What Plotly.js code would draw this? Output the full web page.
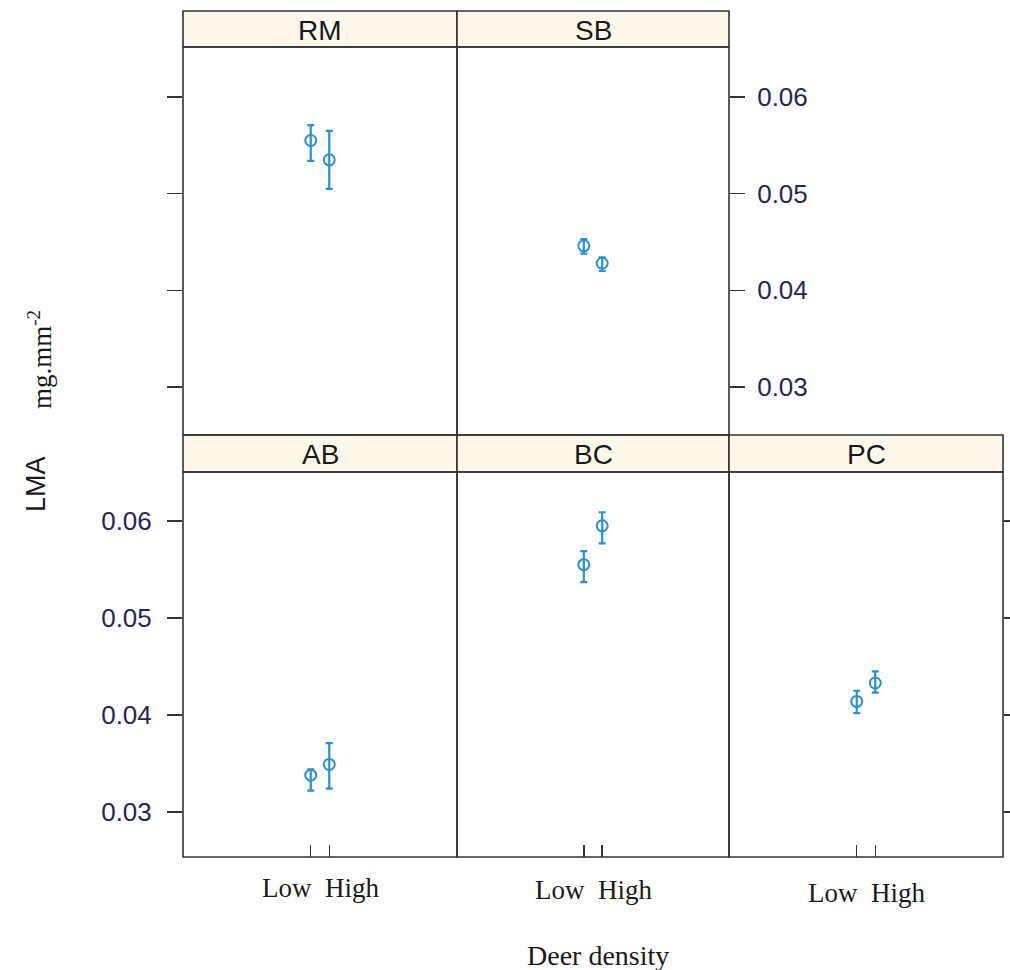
<!DOCTYPE html>
<html>
<head>
<meta charset="utf-8">
<script src="https://cdn.plot.ly/plotly-3.0.1.min.js"></script>
<style>html,body{margin:0;padding:0;background:#fff;}#chart{width:1010px;height:970px;}</style>
</head>
<body>
<div id="chart"></div>
<script>
// ---- data ----
const panels = ['RM', 'SB', 'AB', 'BC', 'PC'];
const levels = ['Low', 'High'];
const yTicks = [0.03, 0.04, 0.05, 0.06];
const yTickText = ['0.03', '0.04', '0.05', '0.06'];
const meanRM = [0.0555, 0.0535];
const upperRM = [0.0571, 0.0565];
const lowerRM = [0.0534, 0.0505];
const meanSB = [0.0446, 0.0428];
const upperSB = [0.0453, 0.0434];
const lowerSB = [0.0438, 0.0420];
const meanAB = [0.0338, 0.0349];
const upperAB = [0.0344, 0.0371];
const lowerAB = [0.0322, 0.0324];
const meanBC = [0.0555, 0.0595];
const upperBC = [0.0569, 0.0609];
const lowerBC = [0.0537, 0.0577];
const meanPC = [0.0414, 0.0433];
const upperPC = [0.0425, 0.0445];
const lowerPC = [0.0402, 0.0423];
const xTitle = 'Deer density';
const yTitleMain = 'LMA';
const yTitleUnit = 'mg.mm<sup>-2</sup>';

// ---- layout geometry (pixels) ----
const W = 1010, H = 970;
const colX = [183, 457, 729, 1003];
const rowTop = {strip: [11, 47], panel: [47, 435]};
const rowBot = {strip: [435, 472], panel: [472, 857]};
const px = v => v / W;
const py = v => 1 - v / H;

const means = [meanRM, meanSB, meanAB, meanBC, meanPC];
const uppers = [upperRM, upperSB, upperAB, upperBC, upperPC];
const lowers = [lowerRM, lowerSB, lowerAB, lowerBC, lowerPC];
// panel position: [col, row] row 0 = top
const pos = [[0, 0], [1, 0], [0, 1], [1, 1], [2, 1]];

const blue = '#2b90d0';
const frame = '#333333';
const stripFill = '#fdf8e9';

const traces = [];
const layout = {
  width: W, height: H,
  margin: {l: 0, r: 0, t: 0, b: 0},
  paper_bgcolor: '#ffffff',
  plot_bgcolor: 'rgba(0,0,0,0)',
  showlegend: false,
  shapes: [],
  annotations: []
};

panels.forEach((name, i) => {
  const [c, r] = pos[i];
  const row = r === 0 ? rowTop : rowBot;
  const n = i + 1;
  const xa = 'xaxis' + (n === 1 ? '' : n);
  const ya = 'yaxis' + (n === 1 ? '' : n);
  const xr = 'x' + (n === 1 ? '' : n);
  const yr = 'y' + (n === 1 ? '' : n);
  const m = means[i];
  traces.push({
    type: 'scatter', mode: 'markers',
    x: levels, y: m, xaxis: xr, yaxis: yr,
    marker: {symbol: 'circle-open', size: 11, color: blue, line: {width: 2, color: blue}},
    error_y: {
      type: 'data', symmetric: false,
      array: uppers[i].map((u, k) => u - m[k]),
      arrayminus: lowers[i].map((l, k) => m[k] - l),
      color: blue, thickness: 2.2, width: 3.5
    },
    hoverinfo: 'skip'
  });
  const yrange = r === 0 ? [0.025034, 0.065172] : [0.025361, 0.065052];
  layout[xa] = {
    domain: [px(colX[c]), px(colX[c + 1])],
    anchor: yr,
    type: 'category',
    range: [-6.9, 7.9],
    showgrid: false, zeroline: false, showline: false,
    ticks: r === 1 ? 'inside' : '',
    ticklen: 12, tickwidth: 1.5, tickcolor: frame,
    showticklabels: false,
    fixedrange: true
  };
  const yax = {
    domain: [py(row.panel[1]), py(row.panel[0])],
    anchor: xr,
    range: yrange,
    showgrid: false, zeroline: false, showline: false,
    tickvals: yTicks, ticktext: yTickText,
    ticklen: 15, tickwidth: 1.5, tickcolor: frame,
    tickfont: {family: 'Liberation Sans, Arial, sans-serif', size: 26, color: '#262650'},
    ticklabelstandoff: 8,
    fixedrange: true
  };
  if (name === 'RM') { yax.side = 'left'; yax.ticks = 'outside'; yax.showticklabels = false; }
  else if (name === 'SB') { yax.side = 'right'; yax.ticks = 'outside'; yax.showticklabels = true; yax.ticklabelstandoff = 7; }
  else if (name === 'AB') { yax.side = 'left'; yax.ticks = 'outside'; yax.showticklabels = true; yax.ticklabelstandoff = 10; }
  else if (name === 'BC') { yax.ticks = ''; yax.showticklabels = false; }
  else { yax.side = 'right'; yax.ticks = 'outside'; yax.showticklabels = false; }
  layout[ya] = yax;

  // strip
  layout.shapes.push({
    type: 'rect', xref: 'paper', yref: 'paper',
    x0: px(colX[c]), x1: px(colX[c + 1]),
    y0: py(row.strip[1]), y1: py(row.strip[0]),
    fillcolor: stripFill, line: {color: frame, width: 1.6}, layer: 'below'
  });
  // panel frame
  layout.shapes.push({
    type: 'rect', xref: 'paper', yref: 'paper',
    x0: px(colX[c]), x1: px(colX[c + 1]),
    y0: py(row.panel[1]), y1: py(row.panel[0]),
    fillcolor: 'rgba(0,0,0,0)', line: {color: frame, width: 1.6}, layer: 'above'
  });
  layout.annotations.push({
    xref: 'paper', yref: 'paper',
    x: px((colX[c] + colX[c + 1]) / 2), y: py((row.strip[0] + row.strip[1]) / 2 + 1),
    xanchor: 'center', yanchor: 'middle', showarrow: false,
    text: name,
    font: {family: 'Liberation Sans, Arial, sans-serif', size: 28, color: '#1a1a1a'}
  });
  if (r === 1) {
    const labelY = [888, 890, 893][c];
    layout.annotations.push({
      xref: xr, yref: 'paper',
      x: 0.5, y: py(labelY),
      xanchor: 'center', yanchor: 'middle', showarrow: false,
      text: levels.join('\u00a0\u00a0'),
      font: {family: 'Liberation Serif, Times New Roman, serif', size: 27, color: '#1a1a1a'}
    });
  }
});

layout.annotations.push({
  xref: 'paper', yref: 'paper', x: px(598), y: py(955),
  xanchor: 'center', yanchor: 'middle', showarrow: false,
  text: xTitle,
  font: {family: 'Liberation Serif, Times New Roman, serif', size: 28, color: '#1a1a1a'}
});
layout.annotations.push({
  xref: 'paper', yref: 'paper', x: px(36), y: py(484),
  xanchor: 'center', yanchor: 'middle', showarrow: false, textangle: -90,
  text: yTitleMain,
  font: {family: 'Liberation Sans, Arial, sans-serif', size: 27, color: '#1a1a1a'}
});
layout.annotations.push({
  xref: 'paper', yref: 'paper', x: px(40), y: py(360),
  xanchor: 'center', yanchor: 'middle', showarrow: false, textangle: -90,
  text: yTitleUnit,
  font: {family: 'Liberation Serif, Times New Roman, serif', size: 27, color: '#1a1a1a'}
});

Plotly.newPlot('chart', traces, layout, {staticPlot: true, displayModeBar: false});
</script>
</body>
</html>
